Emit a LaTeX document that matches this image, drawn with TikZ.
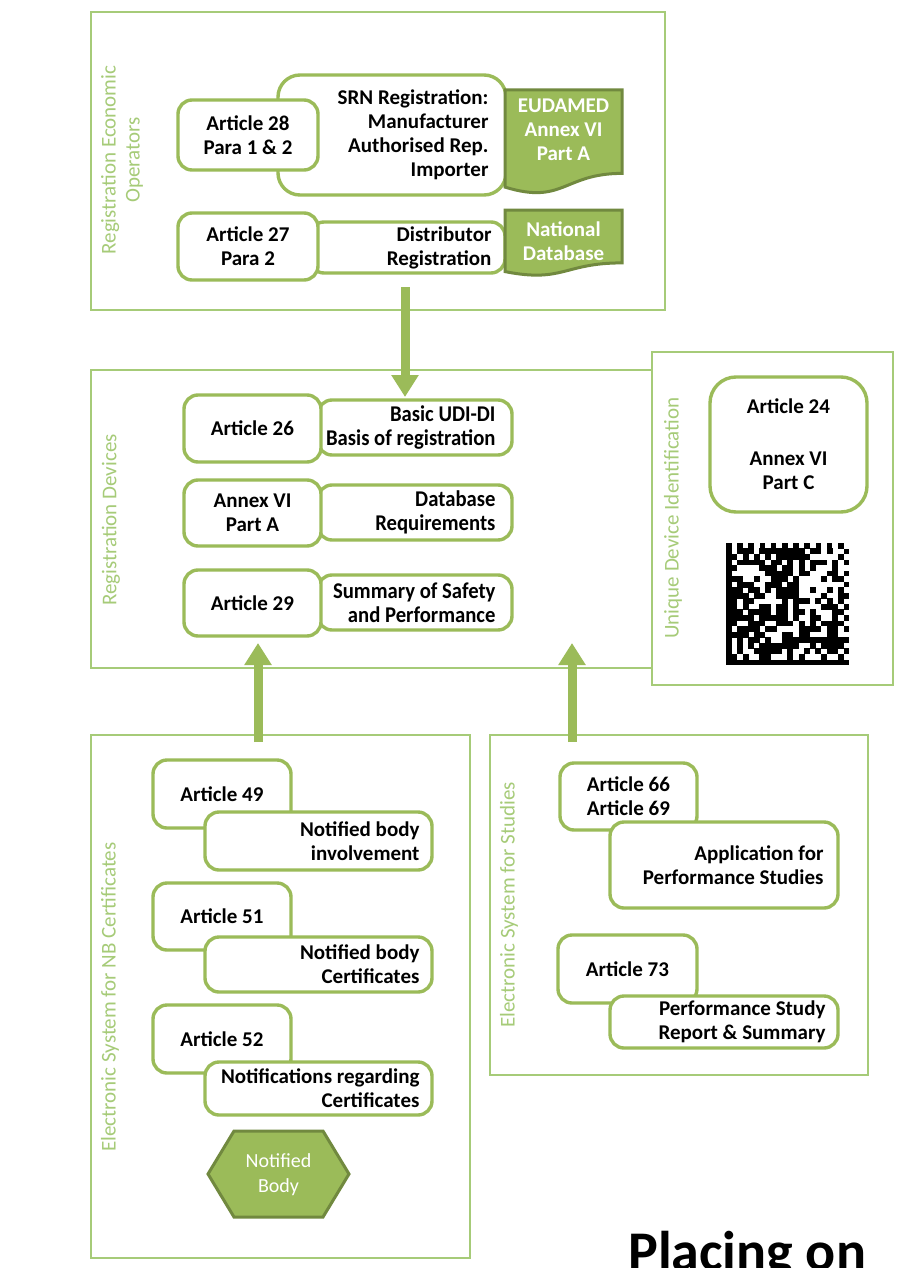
\documentclass[tikz,border=0pt]{standalone}
\usepackage{fontspec}
\setmainfont{Carlito}
\newfontfamily\narrowface[FakeStretch=0.92]{Carlito}
\usetikzlibrary{arrows.meta}

\definecolor{gline}{HTML}{9BBB59}
\definecolor{gdark}{HTML}{71893F}
\definecolor{gpale}{HTML}{A6CB78}

\tikzset{
  panel/.style={draw=gpale, line width=2pt},
  paneltitle/.style={text=gpale, font=\fontsize{21}{24}\selectfont, rotate=90, align=center, inner sep=0pt},
  refbox/.style={draw=gline, line width=3.4pt, fill=white, rounded corners=14pt,
    font=\bfseries\fontsize{21}{24}\selectfont, align=center, inner sep=0pt},
  descbox/.style={refbox},
  desctext/.style={anchor=east, align=right, inner sep=0pt, font=\bfseries\fontsize{21}{24}\selectfont},
  narrowtext/.style={desctext, font=\narrowface\bfseries\fontsize{22.5}{24}\selectfont},
  store/.style={fill=gline, draw=gdark, line width=3pt},
  storetext/.style={text=white, font=\bfseries\fontsize{21}{24}\selectfont, align=center, inner sep=0pt},
  flow/.style={draw=gline, line width=9pt, -{Triangle[width=26pt,length=22pt]}},
  module/.style={fill=black}
}

\begin{document}
\begin{tikzpicture}[x=1pt, y=-1pt]
  \path[use as bounding box, fill=white] (0,0) rectangle (906,1268);
  \clip (0,0) rectangle (906,1268);

  % ---------- Registration of economic operators ----------
  \draw[panel] (91,12) rectangle (665,310);
  \node[paneltitle] (teo) at (122,160) {Registration Economic\\Operators};

  \node[descbox, rounded corners=22pt, minimum width=228pt, minimum height=120pt] (srn) at (392,135) {};
  \node[desctext] (srnt) at ([xshift=-19pt]srn.east) {SRN Registration:\\Manufacturer\\Authorised Rep.\\Importer};
  \node[refbox, minimum width=140pt, minimum height=70pt] (a28) at (248,135) {Article 28\\Para 1 \& 2};
  \draw[store] (505,90) -- (622,90) -- (622,173.4)
     .. controls (563.5,173.4) and (563.5,205.1) .. (505,187.1) -- cycle;
  \node[storetext] (eudamed) at (563.5,130) {EUDAMED\\Annex VI\\Part A};

  \node[descbox, minimum width=195pt, minimum height=51pt] (dist) at (407.5,247.5) {};
  \node[desctext] (distt) at ([xshift=-15pt]dist.east) {Distributor\\Registration};
  \node[refbox, minimum width=140pt, minimum height=67pt] (a27) at (248,246.5) {Article 27\\Para 2};
  \draw[store] (505,210) -- (622,210) -- (622,262.9)
     .. controls (563.5,262.9) and (563.5,283.1) .. (505,271.6) -- cycle;
  \node[storetext] (natdb) at (563.5,241) {National\\Database};

  % ---------- Registration of devices ----------
  \draw[panel] (91,370) rectangle (652,668);
  \node[paneltitle] (tdev) at (111,520) {Registration Devices};

  \node[descbox, minimum width=194pt, minimum height=55pt] (udi) at (415,427.5) {};
  \node[narrowtext] (udit) at ([xshift=-18pt]udi.east) {Basic UDI-DI\\Basis of registration};
  \node[refbox, minimum width=137pt, minimum height=67pt] (a26) at (252.5,428.5) {Article 26};

  \node[descbox, minimum width=194pt, minimum height=55pt] (dbreq) at (415,512.5) {};
  \node[narrowtext] (dbreqt) at ([xshift=-18pt]dbreq.east) {Database\\Requirements};
  \node[refbox, minimum width=137pt, minimum height=66pt] (an6a) at (252.5,513) {Annex VI\\Part A};

  \node[descbox, minimum width=194pt, minimum height=55pt] (ssp) at (415,602.5) {};
  \node[narrowtext] (sspt) at ([xshift=-18pt]ssp.east) {Summary of Safety\\and Performance};
  \node[refbox, minimum width=137pt, minimum height=66pt] (a29) at (252.5,603) {Article 29};

  % ---------- Unique device identification ----------
  \draw[panel] (652,352) rectangle (893,685);
  \node[paneltitle] (tudi) at (673,518) {Unique Device Identification};
  \node[refbox, rounded corners=26pt, minimum width=157pt, minimum height=135pt]
    (a24) at (788.5,444.5) {Article 24\\[28pt]Annex VI\\Part C};

  % data matrix symbol: solid finder edges, alternating timing edges, random data
  \begin{scope}[shift={(726,543)}]
    \def\mw{5.6}\def\mh{5.55}
    \fill[module] (0,0) rectangle (\mw,22*\mh);
    \fill[module] (0,21*\mh) rectangle (22*\mw,22*\mh);
    \foreach \k in {0,2,...,20} {
      \fill[module] (\k*\mw,0) rectangle ({(\k+1)*\mw},\mh);
    }
    \foreach \k in {1,3,...,21} {
      \fill[module] (21*\mw,\k*\mh) rectangle (22*\mw,{(\k+1)*\mh});
    }
    \pgfmathsetseed{2718}
    \foreach \i in {1,...,20} {
      \foreach \j in {1,...,20} {
        \pgfmathrandominteger{\bit}{0}{99}
        \ifnum\bit<55
          \fill[module] (\i*\mw-0.15,\j*\mh-0.15) rectangle ({(\i+1)*\mw+0.15},{(\j+1)*\mh+0.15});
        \fi
      }
    }
  \end{scope}

  % ---------- Electronic system for NB certificates ----------
  \draw[panel] (91,735) rectangle (470,1258);
  \node[paneltitle] (tnb) at (110,997) {Electronic System for NB Certificates};

  \node[refbox, minimum width=138pt, minimum height=68pt] (a49) at (222,794) {Article 49};
  \node[descbox, minimum width=227pt, minimum height=58pt] (nbi) at (318.5,841) {};
  \node[desctext] (nbit) at ([xshift=-14pt]nbi.east) {Notified body\\involvement};

  \node[refbox, minimum width=138pt, minimum height=67pt] (a51) at (222,916.5) {Article 51};
  \node[descbox, minimum width=227pt, minimum height=55pt] (nbc) at (318.5,964.5) {};
  \node[desctext] (nbct) at ([xshift=-14pt]nbc.east) {Notified body\\Certificates};

  \node[refbox, minimum width=138pt, minimum height=68pt] (a52) at (222,1039) {Article 52};
  \node[descbox, minimum width=227pt, minimum height=53pt] (nrc) at (318.5,1088.5) {};
  \node[desctext] (nrct) at ([xshift=-14pt]nrc.east) {Notifications regarding\\Certificates};

  \draw[store] (208,1174) -- (234,1131) -- (323,1131) -- (349,1174) -- (323,1217) -- (234,1217) -- cycle;
  \node[text=white, font=\fontsize{20}{25}\selectfont, align=center, inner sep=0pt]
    (nb) at (278.5,1174.5) {Notified\\Body};

  % ---------- Electronic system for studies ----------
  \draw[panel] (490,735) rectangle (868,1075);
  \node[paneltitle] (tst) at (509,905) {Electronic System for Studies};

  \node[refbox, minimum width=137pt, minimum height=67pt] (a66) at (628.5,796.5) {Article 66\\Article 69};
  \node[descbox, minimum width=228pt, minimum height=86pt] (aps) at (724,865) {};
  \node[desctext] (apst) at ([xshift=-16pt]aps.east) {Application for\\Performance Studies};

  \node[refbox, minimum width=139pt, minimum height=68pt] (a73) at (627.5,969) {Article 73};
  \node[descbox, minimum width=228pt, minimum height=52pt] (psr) at (724,1022) {};
  \node[desctext] (psrt) at ([xshift=-14pt]psr.east) {Performance Study\\Report \& Summary};

  % ---------- flows between the systems ----------
  \coordinate (f1s) at (405,287);
  \coordinate (f1e) at (405,397);
  \draw[flow] (f1s) -- (f1e);
  \coordinate (f2s) at (258,742);
  \coordinate (f2e) at (258,643);
  \draw[flow] (f2s) -- (f2e);
  \coordinate (f3s) at (572,742);
  \coordinate (f3e) at (572,643);
  \draw[flow] (f3s) -- (f3e);

  \node[anchor=base west, inner sep=0pt, font=\bfseries\fontsize{56}{60}\selectfont] (placing) at (628,1270) {Placing on};
\end{tikzpicture}
\end{document}
